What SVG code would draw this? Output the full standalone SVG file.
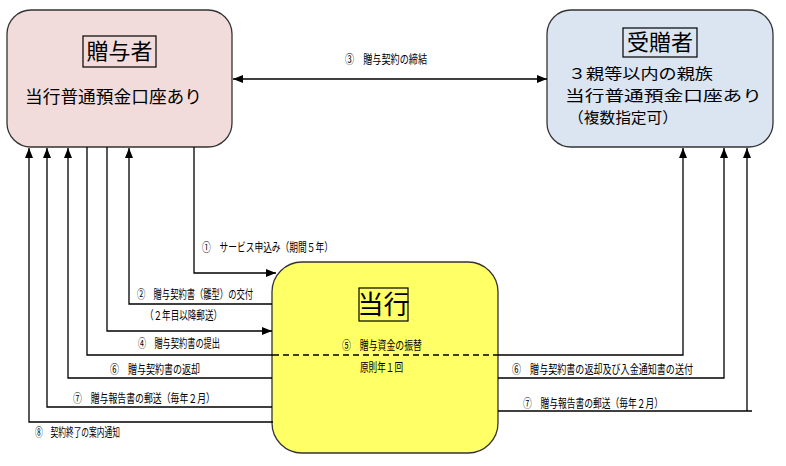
<svg xmlns="http://www.w3.org/2000/svg" width="786" height="466" viewBox="0 0 786 466">
<defs>
<marker id="ah" viewBox="0 0 10 8" refX="10" refY="4" markerWidth="10" markerHeight="8" markerUnits="userSpaceOnUse" orient="auto-start-reverse">
<path d="M0,0 L10,4 L0,8 z" fill="#000"/>
</marker>
<style>
.box{stroke:#333;stroke-width:1.3}
.ttl{fill:none;stroke:#000;stroke-width:1.2}
.big{font-family:"Noto Sans CJK JP","Noto Sans CJK SC",sans-serif;fill:#000}
.lbl{font-family:"Noto Sans CJK JP","Noto Sans CJK SC",sans-serif;font-size:12px;fill:#000}
.ln{fill:none;stroke:#000;stroke-width:1.3}
.arr{marker-end:url(#ah)}
</style>
</defs>
<rect width="786" height="466" fill="#fff"/>

<g id="donor">
<rect class="box" x="7" y="10" width="225" height="137" rx="24" fill="#f2dcdb"/>
<rect class="ttl" x="83" y="36" width="73" height="31"/>
<text class="big" x="119.5" y="59" font-size="22" text-anchor="middle">贈与者</text>
<text class="big" x="25" y="103" font-size="17" textLength="177" lengthAdjust="spacingAndGlyphs">当行普通預金口座あり</text>
</g>

<g id="recipient">
<rect class="box" x="547" y="10" width="226" height="137" rx="24" fill="#dbe5f1"/>
<rect class="ttl" x="623" y="28" width="74" height="29"/>
<text class="big" x="660" y="50" font-size="22" text-anchor="middle">受贈者</text>
<text class="big" x="568" y="79" font-size="15" textLength="145" lengthAdjust="spacingAndGlyphs">３親等以内の親族</text>
<text class="big" x="565" y="101" font-size="15" textLength="197" lengthAdjust="spacingAndGlyphs">当行普通預金口座あり</text>
<text class="big" x="568" y="123" font-size="15" textLength="110" lengthAdjust="spacingAndGlyphs">（複数指定可）</text>
</g>

<g id="bank">
<rect class="box" x="272" y="262" width="226" height="191" rx="30" fill="#ffff66"/>
<rect class="ttl" x="359" y="288" width="49" height="33"/>
<text class="big" x="383.5" y="314" font-size="26" text-anchor="middle">当行</text>
<text class="lbl" x="342" y="349.5" textLength="80" lengthAdjust="spacingAndGlyphs">⑤　贈与資金の振替</text>
<text class="lbl" x="360" y="371.5" textLength="43" lengthAdjust="spacingAndGlyphs">原則年１回</text>
</g>

<g id="connectors">
<line class="ln" x1="233" y1="79" x2="547" y2="79" marker-start="url(#ah)" marker-end="url(#ah)"/>
<text class="lbl" x="345" y="63.5" textLength="82" lengthAdjust="spacingAndGlyphs">③　贈与契約の締結</text>

<polyline class="ln arr" points="194,147 194,273 276,273"/>
<text class="lbl" x="202" y="251.5" textLength="131" lengthAdjust="spacingAndGlyphs">①　サービス申込み（期間５年）</text>

<polyline class="ln arr" points="272,304 129,304 129,148"/>
<text class="lbl" x="137" y="298.5" textLength="116" lengthAdjust="spacingAndGlyphs">②　贈与契約書（雛型）の交付</text>
<text class="lbl" x="145" y="319.5" textLength="77" lengthAdjust="spacingAndGlyphs">（２年目以降郵送）</text>

<polyline class="ln arr" points="107,147 107,331 272,331"/>
<text class="lbl" x="138" y="347.5" textLength="82" lengthAdjust="spacingAndGlyphs">④　贈与契約書の提出</text>

<polyline class="ln" points="87,147 87,355 273,355"/>
<line x1="273" y1="355" x2="497" y2="355" stroke="#000" stroke-width="1.3" stroke-dasharray="6,4"/>
<polyline class="ln arr" points="497,355 683,355 683,148"/>

<polyline class="ln arr" points="272,378 68,378 68,148"/>
<text class="lbl" x="110" y="373.5" textLength="90" lengthAdjust="spacingAndGlyphs">⑥　贈与契約書の返却</text>

<polyline class="ln arr" points="272,407 47,407 47,148"/>
<text class="lbl" x="73" y="402.5" textLength="142" lengthAdjust="spacingAndGlyphs">⑦　贈与報告書の郵送（毎年２月）</text>

<polyline class="ln arr" points="273,422 29,422 29,148"/>
<text class="lbl" x="35" y="436.5" textLength="85" lengthAdjust="spacingAndGlyphs">⑧　契約終了の案内通知</text>

<polyline class="ln arr" points="498,378 724,378 724,148"/>
<text class="lbl" x="512" y="373.5" textLength="181" lengthAdjust="spacingAndGlyphs">⑥　贈与契約書の返却及び入金通知書の送付</text>

<line class="ln" x1="498" y1="411" x2="752" y2="411"/>
<line class="ln arr" x1="747" y1="411" x2="747" y2="148"/>
<text class="lbl" x="523" y="407.5" textLength="140" lengthAdjust="spacingAndGlyphs">⑦　贈与報告書の郵送（毎年２月）</text>
</g>
</svg>
